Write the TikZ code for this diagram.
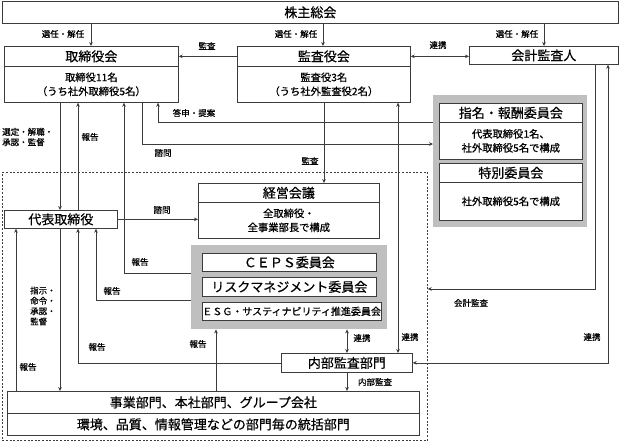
\documentclass[tikz,border=0pt]{standalone}
\usepackage{fontspec}
\setmainfont{Noto Sans CJK JP}[FakeBold=0.6]
\usetikzlibrary{arrows.meta,calc}
\definecolor{linec}{HTML}{3C3C3C}
\definecolor{grayf}{HTML}{BFBFBF}
\newcommand\fTitle{\fontsize{13}{15}\selectfont}
\newcommand\fBody{\fontsize{10.3}{14}\selectfont}
\newcommand\fLab{\fontsize{8.5}{10.3}\selectfont}
\begin{document}
\begin{tikzpicture}[x=1pt,y=-1pt,
  box/.style={draw=linec, fill=white, line width=0.7pt, inner sep=0pt, anchor=north west, align=center, font=\fTitle},
  body/.style={box, font=\fBody},
  grayback/.style={fill=grayf, draw=none, inner sep=0pt, anchor=north west},
  lab/.style={font=\fLab, inner sep=0pt},
  arr/.style={draw=linec, line width=0.6pt, -{Stealth[length=4pt,width=3.6pt]}},
  arrb/.style={draw=linec, line width=0.6pt, {Stealth[length=4pt,width=3.6pt]}-{Stealth[length=4pt,width=3.6pt]}}
]
\useasboundingbox (0,0) rectangle (620,444);
% dashed area
\node[draw=linec, line width=0.7pt, dash pattern=on 2pt off 1.6pt, inner sep=0pt, anchor=north west, minimum width=425pt, minimum height=268pt] (area) at (2,172) {};
% boxes
\node[box, minimum width=616pt, minimum height=22pt] (kabu) at (2,1) {株主総会};
\node[box, minimum width=174pt, minimum height=20pt] (tori) at (4,46) {取締役会};
\node[body, minimum width=174pt, minimum height=36pt] (toriB) at (4,66) {取締役11名\\（うち社外取締役5名）};
\node[box, minimum width=173pt, minimum height=20pt] (kansa) at (237,46) {監査役会};
\node[body, minimum width=173pt, minimum height=36pt] (kansaB) at (237,66) {監査役3名\\（うち社外監査役2名）};
\node[box, minimum width=149pt, minimum height=18pt] (kaikei) at (469,46) {会計監査人};
% shimei group
\node[grayback, minimum width=154pt, minimum height=132pt] (shimeig) at (433,95) {};
\node[box, minimum width=143pt, minimum height=19pt] (shimei) at (439,103) {指名・報酬委員会};
\node[body, minimum width=143pt, minimum height=37pt] (shimeiB) at (439,122) {代表取締役1名、\\社外取締役5名で構成};
\node[box, minimum width=143pt, minimum height=19pt] (tokub) at (439,163) {特別委員会};
\node[body, minimum width=143pt, minimum height=38pt] (tokubB) at (439,182) {社外取締役5名で構成};
% daihyo, keiei
\node[box, minimum width=113pt, minimum height=18pt] (daihyo) at (4,210) {代表取締役};
\node[box, minimum width=181pt, minimum height=19pt] (keiei) at (198,183) {経営会議};
\node[body, minimum width=181pt, minimum height=36pt] (keieiB) at (198,202) {全取締役・\\全事業部長で構成};
% ceps group
\node[grayback, minimum width=196pt, minimum height=84pt] (cepsg) at (191,245) {};
\node[box, minimum width=174pt, minimum height=18pt] (ceps) at (202,253) {ＣＥＰＳ委員会};
\node[box, minimum width=174pt, minimum height=19pt] (risk) at (202,277) {リスクマネジメント委員会};
\node[box, minimum width=174pt, minimum height=18pt, font=\fontsize{10}{12}\selectfont] (esg) at (202,302) {ＥＳＧ・サスティナビリティ推進委員会};
% naibu, jigyo
\node[box, minimum width=131pt, minimum height=19pt] (naibu) at (281,353) {内部監査部門};
\node[box, minimum width=412pt, minimum height=22pt] (jigyo) at (7,391) {事業部門、本社部門、グループ会社};
\node[box, minimum width=412pt, minimum height=22pt] (jigyoB) at (7,413) {環境、品質、情報管理などの部門毎の統括部門};
% connectors
\draw[arr] (91,0 |- kabu.south) -- (91,0 |- tori.north);
\draw[arr] (323,0 |- kabu.south) -- (323,0 |- kansa.north);
\draw[arr] (544,0 |- kabu.south) -- (544,0 |- kaikei.north);
\draw[arr] (kansa.west) -- (kansa.west -| tori.east);
\draw[arrb] (kansa.east) -- (kansa.east -| kaikei.west);
\draw[arr] (60,0 |- toriB.south) -- (60,0 |- daihyo.north);
\draw[arr] (78,0 |- daihyo.north) -- (78,0 |- toriB.south);
\draw[arr] (cepsg.west |- 0,273) -| (124,0 |- toriB.south);
\draw[arr] (142,0 |- toriB.south) |- (shimeig.west |- 0,144);
\draw[arr] (shimeig.west |- 0,122) -| (158,0 |- toriB.south);
\draw[arr] (324,0 |- kansaB.south) -- (324,0 |- keiei.north);
\draw[arrb] (398,0 |- kansaB.south) -- (398,0 |- naibu.north);
\draw[arr] (595,0 |- kaikei.south) |- (area.east |- 0,289);
\draw[arrb] (608,0 |- kaikei.south) |- (naibu.east);
\draw[arr] (daihyo.east) -- (daihyo.east -| keiei.west);
\draw[arr] (cepsg.west |- 0,300) -| (96,0 |- daihyo.south);
\draw[arr] (naibu.west) -| (78,0 |- daihyo.south);
\draw[arr] (16,0 |- jigyo.north) -- (16,0 |- daihyo.south);
\draw[arr] (60,0 |- daihyo.south) -- (60,0 |- jigyo.north);
\draw[arr] (216,0 |- jigyo.north) -- (216,0 |- cepsg.south);
\draw[arrb] (347,0 |- cepsg.south) -- (347,0 |- naibu.north);
\draw[arr] (347,0 |- naibu.south) -- (347,0 |- jigyo.north);
% labels
\node[lab] (l1) at (63,34) {選任・解任};
\node[lab] (l2) at (296,34) {選任・解任};
\node[lab] (l3) at (517,34) {選任・解任};
\node[lab] (l4) at (207,46) {監査};
\node[lab] (l5) at (438,45) {連携};
\node[lab, anchor=west, align=left] (l6) at (2,137) {選定・解職・\\承認・監督};
\node[lab] (l7) at (90,137) {報告};
\node[lab] (l8) at (194,113) {答申・提案};
\node[lab] (l9) at (163,153) {諮問};
\node[lab] (l10) at (310,161) {監査};
\node[lab] (l11) at (162,210) {諮問};
\node[lab] (l12) at (140,262) {報告};
\node[lab] (l13) at (112,291) {報告};
\node[lab, anchor=west, align=left] (l14) at (30,306) {指示・\\命令・\\承認・\\監督};
\node[lab] (l15) at (97,347) {報告};
\node[lab] (l16) at (28,367) {報告};
\node[lab] (l17) at (198,344) {報告};
\node[lab] (l18) at (362,338) {連携};
\node[lab] (l19) at (410,337) {連携};
\node[lab] (l20) at (471,303) {会計監査};
\node[lab] (l21) at (592,337) {連携};
\node[lab] (l22) at (375,382) {内部監査};
\end{tikzpicture}
\end{document}
